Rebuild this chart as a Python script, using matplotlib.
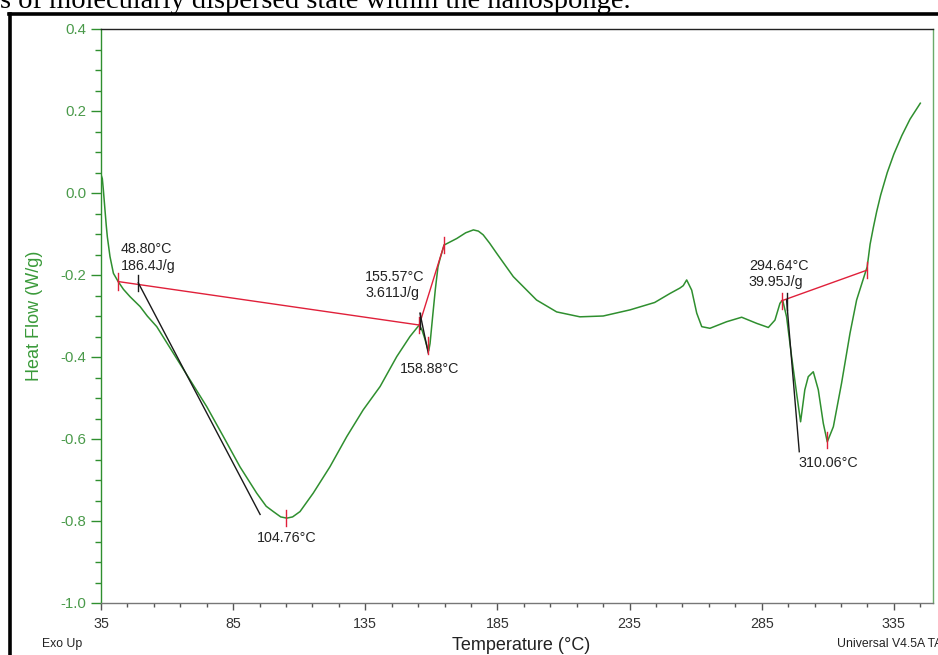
import matplotlib
matplotlib.use('Agg')
import matplotlib.pyplot as plt
from matplotlib.lines import Line2D
from matplotlib.ticker import FixedLocator

plt.rcParams['font.family'] = ['Liberation Sans', 'DejaVu Sans']
plt.rcParams['axes.unicode_minus'] = False

# ---- DSC curve ----
temperature = [35.0, 35.5, 35.9, 36.5, 37.0, 37.4, 38.4, 39.7, 41.5, 43.5, 46.0, 49.8, 52.5, 56.1,
               62.4, 68.7, 75.0, 81.3, 87.6, 93.9, 97.5, 100.2, 103.0, 105.3, 107.5, 110.3, 115.3,
               121.6, 128.0, 134.2, 140.6, 146.9, 151.9, 155.4, 156.5, 157.5, 158.5, 159.0, 159.5,
               160.5, 161.5, 162.5, 163.3, 164.8, 169.6, 173.0, 175.9, 177.8, 179.6, 182.0, 184.7,
               191.0, 199.8, 207.4, 216.2, 225.0, 235.2, 244.5, 250.3, 254.0, 255.3, 256.6, 258.5,
               260.4, 262.3, 265.4, 271.7, 277.4, 283.1, 287.5, 290.0, 291.9, 292.9, 294.4, 296.3,
               298.2, 299.7, 301.3, 302.6, 304.5, 306.4, 308.3, 309.8, 312.1, 315.2, 318.4, 320.9,
               324.1, 324.9, 326.0, 327.2, 328.5, 330.0, 332.5, 335.0, 338.0, 341.1, 345.0]
heat_flow = [0.045, 0.035, 0.007, -0.041, -0.080, -0.107, -0.155, -0.196, -0.216, -0.235, -0.253,
             -0.277, -0.300, -0.326, -0.391, -0.456, -0.521, -0.594, -0.668, -0.732, -0.764, -0.777,
             -0.790, -0.793, -0.790, -0.777, -0.732, -0.668, -0.594, -0.529, -0.472, -0.399, -0.350,
             -0.322, -0.335, -0.355, -0.378, -0.385, -0.367, -0.300, -0.235, -0.180, -0.160, -0.127,
             -0.111, -0.097, -0.090, -0.093, -0.102, -0.122, -0.147, -0.204, -0.261, -0.290, -0.302,
             -0.300, -0.285, -0.267, -0.245, -0.232, -0.226, -0.212, -0.237, -0.293, -0.326, -0.330,
             -0.314, -0.303, -0.318, -0.328, -0.310, -0.269, -0.261, -0.302, -0.399, -0.489, -0.558,
             -0.480, -0.448, -0.436, -0.480, -0.562, -0.607, -0.570, -0.464, -0.342, -0.261, -0.196,
             -0.180, -0.125, -0.085, -0.045, -0.005, 0.050, 0.095, 0.140, 0.180, 0.219]

# ---- analysis annotations ----
baseline_T = [[41.5, 155.4], [155.4, 164.8], [292.5, 324.9]]
baseline_H = [[-0.216, -0.322], [-0.322, -0.127], [-0.263, -0.188]]
tangent_T = [[49.1, 95.2], [155.7, 158.8], [294.4, 299.2]]
tangent_H = [[-0.219, -0.784], [-0.293, -0.390], [-0.261, -0.631]]
red_tick_T = [41.5, 155.4, 164.8, 105.0, 158.9, 292.5, 324.9, 309.8]
red_tick_H = [-0.216, -0.322, -0.127, -0.793, -0.372, -0.263, -0.188, -0.603]
black_tick_T = [49.1, 155.7, 294.4]
black_tick_H = [-0.219, -0.312, -0.265]

label_text = ["48.80°C", "186.4J/g", "155.57°C", "3.611J/g", "158.88°C", "104.76°C",
              "294.64°C", "39.95J/g", "310.06°C"]
label_T = [42.6, 42.6, 134.9, 134.9, 147.9, 94.1, 280.1, 280.1, 298.8]
label_H = [-0.147, -0.188, -0.214, -0.253, -0.440, -0.852, -0.189, -0.228, -0.669]

x_major = [35, 85, 135, 185, 235, 285, 335]
x_minor = [45, 55, 65, 75, 95, 105, 115, 125, 145, 155, 165, 175, 195, 205, 215, 225,
           245, 255, 265, 275, 295, 305, 315, 325, 345]
y_major = [-1.0, -0.8, -0.6, -0.4, -0.2, 0.0, 0.2, 0.4]
y_major_labels = ["-1.0", "-0.8", "-0.6", "-0.4", "-0.2", "0.0", "0.2", "0.4"]
y_minor = [-0.95, -0.9, -0.85, -0.75, -0.7, -0.65, -0.55, -0.5, -0.45, -0.35, -0.3, -0.25,
           -0.15, -0.1, -0.05, 0.05, 0.1, 0.15, 0.25, 0.3, 0.35]

GREEN = '#2f8f2f'
LGREEN = '#4a9a4a'
RED = '#e0203a'
W, H = 938, 655

fig = plt.figure(figsize=(W / 100, H / 100), dpi=100)
ax = fig.add_axes([101 / W, 1 - 603 / H, (933 - 101) / W, (603 - 29) / H])

ax.plot(temperature, heat_flow, color=GREEN, lw=1.1, zorder=3)

for t, h in zip(baseline_T, baseline_H):
    ax.plot(t, h, color=RED, lw=1.0, zorder=4)
for t, h in zip(tangent_T, tangent_H):
    ax.plot(t, h, color='#1a1a1a', lw=1.0, zorder=4)
for t, h in zip(red_tick_T, red_tick_H):
    ax.plot([t, t], [h - 0.02, h + 0.02], color=RED, lw=1.0, zorder=5)
for t, h in zip(black_tick_T, black_tick_H):
    ax.plot([t, t], [h - 0.02, h + 0.02], color='#1a1a1a', lw=1.0, zorder=5)

for s, t, h in zip(label_text, label_T, label_H):
    ax.text(t, h, s, fontsize=10.3, color='#222222', ha='left', va='baseline')

ax.set_xlim(35, 349.8)
ax.set_ylim(-1.0, 0.4)

ax.xaxis.set_major_locator(FixedLocator(x_major))
ax.xaxis.set_minor_locator(FixedLocator(x_minor))
ax.yaxis.set_major_locator(FixedLocator(y_major))
ax.yaxis.set_minor_locator(FixedLocator(y_minor))
ax.set_yticklabels(y_major_labels)
ax.set_xticklabels([str(v) for v in x_major])

ax.tick_params(axis='x', which='major', direction='out', length=5, width=1, color='#555555',
               labelsize=10.3, labelcolor='#333333', pad=5)
ax.tick_params(axis='x', which='minor', direction='out', length=3, width=1, color='#555555')
ax.tick_params(axis='y', which='major', direction='out', length=7, width=1, color=GREEN,
               labelsize=10.8, labelcolor=LGREEN, pad=3.5)
ax.tick_params(axis='y', which='minor', direction='out', length=4, width=1, color=GREEN)

ax.spines['left'].set_color(GREEN)
ax.spines['right'].set_color('#6aaa6a')
ax.spines['bottom'].set_color('#777777')
ax.spines['top'].set_color('#222222')
for sp in ax.spines.values():
    sp.set_linewidth(1.0)

fig.text(34.5 / W, 1 - 316 / H, "Heat Flow (W/g)", rotation=90, ha='center', va='center',
         fontsize=13, color='#3a9a3a')
fig.text(521 / W, 1 - 645 / H, "Temperature (°C)", ha='center', va='center',
         fontsize=13, color='#222222')
fig.text(41.7 / W, 1 - 644 / H, "Exo Up", ha='left', va='center', fontsize=8.8, color='#222222')
fig.text(836.7 / W, 1 - 644 / H, "Universal V4.5A TA Instruments", ha='left', va='center',
         fontsize=8.8, color='#222222')

# caption fragment from the page above the chart (clipped at the top, as in the source)
fig.text(0.0, 1 - 8.5 / H, "s of molecularly dispersed state within the nanosponge.",
         ha='left', va='baseline', fontsize=20.5, family='Liberation Serif', color='black')

# thick page frame
fig.add_artist(Line2D([10 / W, 10 / W], [0, 1 - 14 / H], transform=fig.transFigure,
                      color='black', lw=2.6))
fig.add_artist(Line2D([8.5 / W, 1.0], [1 - 14 / H, 1 - 14 / H], transform=fig.transFigure,
                      color='black', lw=2.6))

fig.savefig('out.png', dpi=100)
